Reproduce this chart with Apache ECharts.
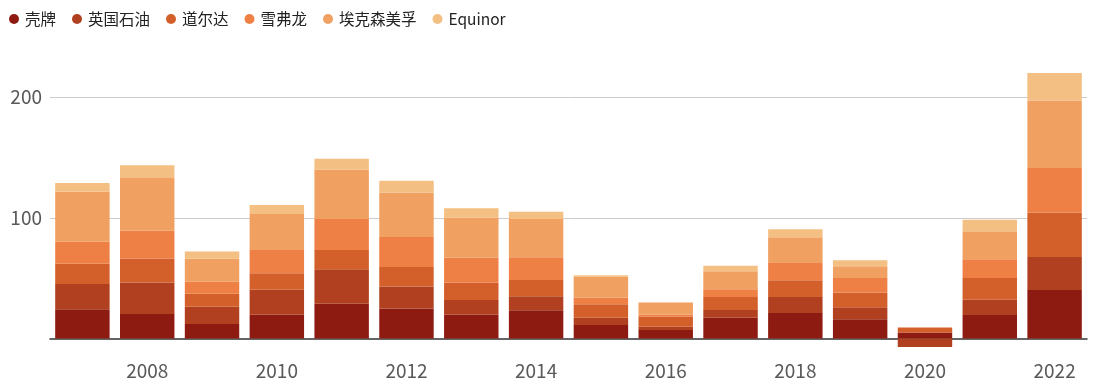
<!DOCTYPE html>
<html>
<head>
<meta charset="utf-8">
<script src="https://cdn.jsdelivr.net/npm/echarts@6/dist/echarts.min.js"></script>
<style>
html,body{margin:0;padding:0;background:#fff;}
#chart{width:1097px;height:392px;}
</style>
</head>
<body>
<div id="chart"></div>
<script>
const years = ['2007','2008','2009','2010','2011','2012','2013','2014','2015','2016','2017','2018','2019','2020','2021','2022'];
const seriesNames = ['壳牌','英国石油','道尔达','雪弗龙','埃克森美孚','Equinor'];
const shell   = [24.2, 20.4, 12.1, 19.6, 28.9, 24.8, 19.6, 23.5, 11.2, 7.0, 17.2, 21.1, 15.9, 5.0, 19.4, 40.1];
const bp      = [21.0, 26.0, 14.3, 20.8, 28.5, 18.2, 12.4, 11.5, 6.0, 2.8, 6.4, 13.2, 9.9, -7.0, 12.7, 27.5];
const total   = [16.8, 19.9, 10.7, 13.6, 15.9, 16.3, 14.3, 13.5, 11.1, 8.2, 10.7, 14.0, 12.4, 4.1, 18.1, 36.7];
const chevron = [18.2, 22.9, 10.0, 19.3, 25.6, 24.7, 20.9, 18.8, 5.7, 2.0, 6.6, 14.9, 12.0, 0, 15.5, 36.9];
const exxon   = [41.3, 44.4, 19.0, 29.8, 41.1, 37.0, 33.1, 31.7, 17.4, 9.9, 14.9, 20.7, 9.7, 0, 23.1, 55.9];
const equinor = [7.2, 10.0, 6.0, 7.4, 8.8, 9.6, 7.5, 6.0, 1.0, 0, 4.4, 6.6, 5.0, 0, 9.5, 22.9];
const yTickLabels = ['100','200'];

const colors = ['#8e1b12','#b0401f','#d35f2a','#ee8045','#f0a061','#f4bf82'];
const allData = [shell, bp, total, chevron, exxon, equinor];
const FONT = '"Noto Sans CJK SC", "Noto Sans", sans-serif';
const NONE = 'rgba(0,0,0,0)';

const Y_MIN = -10, Y_MAX = 230, Y_STEP = 10;
const splitColors = [];
for (let v = Y_MIN; v <= Y_MAX; v += Y_STEP) {
  splitColors.push(yTickLabels.indexOf(String(v)) >= 0 ? '#cccccc' : NONE);
}

const chart = echarts.init(document.getElementById('chart'), null, {renderer:'canvas'});
chart.setOption({
  animation: false,
  color: colors,
  textStyle: {fontFamily: FONT},
  legend: {
    left: 4, top: 5,
    icon: 'circle',
    itemWidth: 12, itemHeight: 10,
    itemGap: 16,
    textStyle: {fontFamily: FONT, fontSize: 15.5, color: '#222', lineHeight: 18},
    data: seriesNames
  },
  grid: {left: 50, right: 10, top: 60.8, bottom: 41.4, containLabel: false, outerBoundsMode: 'none'},
  xAxis: {
    type: 'category',
    data: years,
    axisLine: {onZero: true, lineStyle: {color: '#333', width: 1.5}},
    axisTick: {show: false},
    axisLabel: {
      interval: function(i){ return i % 2 === 1; },
      color: '#5a5a5a', fontSize: 19, fontFamily: FONT, margin: 11
    }
  },
  yAxis: {
    type: 'value',
    min: Y_MIN, max: Y_MAX, interval: Y_STEP,
    axisLine: {show: false},
    axisTick: {show: false},
    splitLine: {lineStyle: {color: splitColors, width: 1}},
    axisLabel: {
      color: '#5a5a5a', fontSize: 19, fontFamily: FONT, margin: 8,
      formatter: function(v){ const s = String(v); return yTickLabels.indexOf(s) >= 0 ? s : ''; }
    }
  },
  series: seriesNames.map((n, i) => ({
    name: n,
    type: 'bar',
    stack: 'total',
    barWidth: '84%',
    data: allData[i],
    itemStyle: {color: colors[i]}
  }))
});
</script>
</body>
</html>
